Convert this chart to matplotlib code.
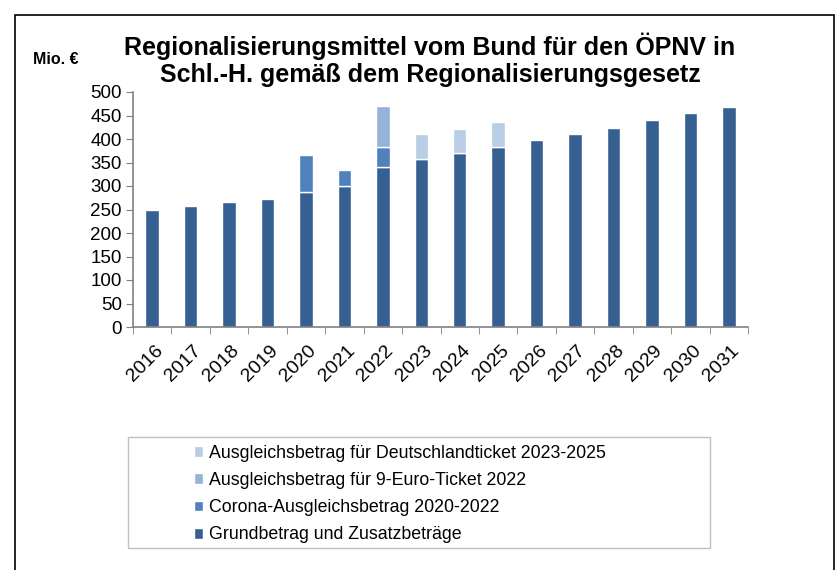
import matplotlib
matplotlib.use("Agg")
import matplotlib.pyplot as plt
import numpy as np
from matplotlib.patches import Rectangle

plt.rcParams['font.family'] = ['Liberation Sans', 'DejaVu Sans']

years = ["2016", "2017", "2018", "2019", "2020", "2021", "2022", "2023",
         "2024", "2025", "2026", "2027", "2028", "2029", "2030", "2031"]
grund = [249, 258, 265, 273, 287, 300, 341, 357, 370, 383, 397, 411, 424, 440, 455, 469]
corona = [0, 0, 0, 0, 80, 35, 42, 0, 0, 0, 0, 0, 0, 0, 0, 0]
neun_euro = [0, 0, 0, 0, 0, 0, 88, 0, 0, 0, 0, 0, 0, 0, 0, 0]
dticket = [0, 0, 0, 0, 0, 0, 0, 53, 52, 53, 0, 0, 0, 0, 0, 0]

series = [
    ("Grundbetrag und Zusatzbeträge", grund, "#366092"),
    ("Corona-Ausgleichsbetrag 2020-2022", corona, "#4F81BD"),
    ("Ausgleichsbetrag für 9-Euro-Ticket 2022", neun_euro, "#95B3D7"),
    ("Ausgleichsbetrag für Deutschlandticket 2023-2025", dticket, "#B9CDE5"),
]

fig = plt.figure(figsize=(8.4, 5.7), dpi=100)
ax = fig.add_axes([133/840, 1-327/570, (748-133)/840, (327-92)/570])

x = np.arange(len(years))
bottom = np.zeros(len(years))
handles = []
for name, vals, col in series:
    vals = np.array(vals, dtype=float)
    mask = vals > 0
    b = ax.bar(x[mask], vals[mask], bottom=bottom[mask], width=0.35, color=col,
               edgecolor="white", linewidth=1.0, label=name)
    handles.append(b)
    bottom += vals

ax.set_xlim(-0.5, len(years) - 0.5)
ax.set_ylim(0, 500)
ax.set_yticks(np.arange(0, 501, 50))
ax.tick_params(axis='y', labelsize=13.5, length=5, color="#808080", direction="out", pad=3)
ax.set_xticks(x + 0.05)
ax.set_xticklabels(years, rotation=45, ha="right", rotation_mode="anchor", fontsize=14)
ax.tick_params(axis='x', which='major', length=0, pad=11)
ax.set_xticks(np.arange(-0.5, len(years), 1), minor=True)
ax.tick_params(axis='x', which='minor', length=5, color="#808080")
for s in ["top", "right"]:
    ax.spines[s].set_visible(False)
for s in ["left", "bottom"]:
    ax.spines[s].set_color("#808080")
    ax.spines[s].set_linewidth(1.2)

fig.text(430/840, 1-60/570, "Regionalisierungsmittel vom Bund für den ÖPNV in\nSchl.-H. gemäß dem Regionalisierungsgesetz",
         ha="center", va="center", fontsize=18, fontweight="bold", linespacing=1.15)
fig.text(33/840, 1-59/570, "Mio. €", ha="left", va="center", fontsize=11.5, fontweight="bold")

# Legend box
fig.patches.append(Rectangle((128/840, 1-548/570), (710-128)/840, (548-437)/570,
                             transform=fig.transFigure, fill=False,
                             edgecolor="#C0C0C0", linewidth=1.0))
leg = fig.legend(handles[::-1], [s[0] for s in series][::-1],
                 loc="upper left", bbox_to_anchor=(190/840, 1-441/570),
                 frameon=False, fontsize=12.8, handlelength=0.55, handleheight=0.55,
                 handletextpad=0.3, labelspacing=0.58, borderpad=0.2, borderaxespad=0)
leg._legend_box.align = "left"

# outer frame
fig.patches.append(Rectangle((15/840, -0.01), (834-15)/840, 1-15/570 + 0.01,
                             transform=fig.transFigure, fill=False,
                             edgecolor="black", linewidth=1.2))

fig.savefig("out.png", dpi=100)
